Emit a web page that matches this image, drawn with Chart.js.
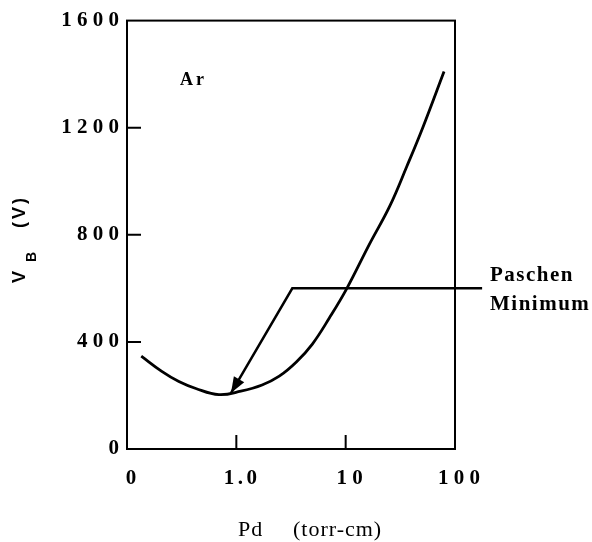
<!DOCTYPE html>
<html>
<head>
<meta charset="utf-8">
<script src="https://cdn.jsdelivr.net/npm/chart.js@4/dist/chart.umd.min.js"></script>
<style>
  html, body { margin: 0; padding: 0; background: #fff; }
  #wrap { width: 592px; height: 542px; }
</style>
</head>
<body>
<div id="wrap"><canvas id="paschenChart" width="592" height="542"></canvas></div>
<script>
// Breakdown voltage curve for argon
const pd = [0.135, 0.208, 0.298, 0.426, 0.693, 1.1, 1.72, 2.47, 3.54, 4.96, 7.11, 10.2, 16.6, 25.3, 36.3, 50.9, 79.4];
const vb = [347, 290, 252, 226, 203, 216, 239, 272, 325, 392, 490, 598, 767, 907, 1056, 1202, 1410];

// "Paschen Minimum" pointer: horizontal leader then arrow down to the curve minimum
const pointerPd = [177, 3.25, 0.893];
const pointerVb = [600, 600, 209];

const xTicks = [0.1, 1, 10, 100];
const xTickLabels = ['0', '1.0', '10', '100'];
const yTicks = [0, 400, 800, 1200, 1600];

function spaced(s, gap) {
  return s.split('').join(gap || '\u2005');
}

const framePlugin = {
  id: 'frame',
  afterDatasetsDraw(chart) {
    const ctx = chart.ctx;
    const a = chart.chartArea;
    const xs = chart.scales.x;
    const ys = chart.scales.y;
    ctx.save();
    ctx.strokeStyle = '#000';
    ctx.lineWidth = 2;
    ctx.strokeRect(a.left, a.top, a.right - a.left, a.bottom - a.top);

    // inward tick marks
    ctx.beginPath();
    [400, 800, 1200].forEach((v) => {
      const y = ys.getPixelForValue(v);
      ctx.moveTo(a.left, y);
      ctx.lineTo(a.left + 14, y);
    });
    [1, 10].forEach((v) => {
      const x = xs.getPixelForValue(v);
      ctx.moveTo(x, a.bottom);
      ctx.lineTo(x, a.bottom - 14);
    });
    ctx.stroke();

    // arrow head at the end of the pointer
    const n = pointerPd.length;
    const x1 = xs.getPixelForValue(pointerPd[n - 2]);
    const y1 = ys.getPixelForValue(pointerVb[n - 2]);
    const x2 = xs.getPixelForValue(pointerPd[n - 1]);
    const y2 = ys.getPixelForValue(pointerVb[n - 1]);
    const ang = Math.atan2(y2 - y1, x2 - x1);
    const len = 16, half = 6;
    ctx.fillStyle = '#000';
    ctx.beginPath();
    ctx.moveTo(x2, y2);
    ctx.lineTo(x2 - len * Math.cos(ang) + half * Math.sin(ang), y2 - len * Math.sin(ang) - half * Math.cos(ang));
    ctx.lineTo(x2 - len * Math.cos(ang) - half * Math.sin(ang), y2 - len * Math.sin(ang) + half * Math.cos(ang));
    ctx.closePath();
    ctx.fill();

    // text labels
    ctx.fillStyle = '#000';
    ctx.textBaseline = 'alphabetic';
    ctx.textAlign = 'left';
    ctx.font = 'bold 18px "Liberation Serif"';
    ctx.letterSpacing = '3px';
    ctx.fillText('Ar', 180, 85);

    ctx.font = 'bold 21px "Liberation Serif"';
    ctx.letterSpacing = '1.5px';
    ctx.fillText('Paschen', 490, 281);
    ctx.fillText('Minimum', 490, 310);

    ctx.font = '22px "Liberation Serif"';
    ctx.letterSpacing = '1px';
    ctx.textBaseline = 'middle';
    ctx.fillText('Pd', 238, 530);
    ctx.fillText('(torr-cm)', 293, 530);

    // rotated y title with subscript
    ctx.translate(25, 283);
    ctx.rotate(-Math.PI / 2);
    ctx.textBaseline = 'alphabetic';
    ctx.font = 'bold 18px "Liberation Sans"';
    ctx.letterSpacing = '0px';
    ctx.fillText('V', 0, 0);
    ctx.font = 'bold 14px "Liberation Sans"';
    ctx.fillText('B', 21, 11);
    ctx.font = 'bold 18px "Liberation Sans"';
    ctx.letterSpacing = '3px';
    ctx.fillText('(V)', 55, 0);
    ctx.restore();
  }
};

const ctx = document.getElementById('paschenChart').getContext('2d');
const paschenChart = new Chart(ctx, {
  type: 'line',
  data: {
    datasets: [
      {
        label: 'Ar',
        data: pd.map((x, i) => ({ x: x, y: vb[i] })),
        borderColor: '#000',
        borderWidth: 2.8,
        pointRadius: 0,
        tension: 0.4,
        fill: false,
      },
      {
        label: 'Paschen Minimum',
        data: pointerPd.map((x, i) => ({ x: x, y: pointerVb[i] })),
        borderColor: '#000',
        borderWidth: 2.5,
        pointRadius: 0,
        tension: 0,
        fill: false,
        clip: false,
      }
    ]
  },
  options: {
    responsive: false,
    animation: false,
    layout: { padding: { left: 0, top: 20, right: 137, bottom: 0 } },
    plugins: {
      legend: { display: false },
      tooltip: { enabled: false },
    },
    scales: {
      x: {
        type: 'logarithmic',
        min: 0.1,
        max: 100,
        afterBuildTicks: (scale) => {
          scale.ticks = xTicks.map((v) => ({ value: v }));
        },
        afterFit: (scale) => { scale.height = 93; },
        grid: { display: false, drawTicks: false },
        border: { display: false },
        ticks: {
          color: '#000',
          font: { family: 'Liberation Serif', size: 21, weight: 'bold' },
          padding: 17,
          labelOffset: 4,
          maxRotation: 0,
          autoSkip: false,
          callback: (v, i) => spaced(xTickLabels[i], i === 1 ? '\u2006' : '\u2005'),
        },
      },
      y: {
        min: 0,
        max: 1600,
        afterBuildTicks: (scale) => {
          scale.ticks = yTicks.map((v) => ({ value: v }));
        },
        afterFit: (scale) => { scale.width = 127; },
        grid: { display: false, drawTicks: false },
        border: { display: false },
        ticks: {
          color: '#000',
          font: { family: 'Liberation Serif', size: 21, weight: 'bold' },
          padding: 8,
          callback: (v) => spaced(String(v)),
        },
      }
    }
  },
  plugins: [framePlugin]
});
</script>
</body>
</html>
